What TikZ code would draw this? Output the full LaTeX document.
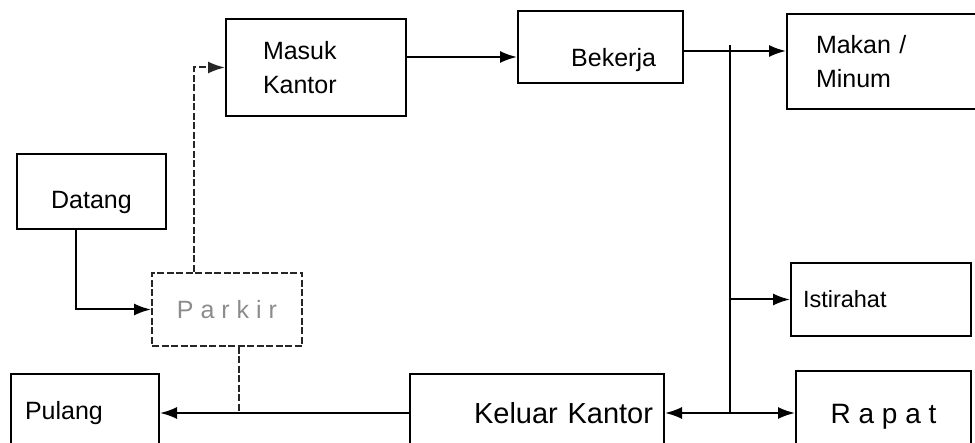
\documentclass[tikz,border=0pt]{standalone}
\usepackage{fontspec}
\setmainfont{Liberation Sans}
\usetikzlibrary{positioning}
\usetikzlibrary{arrows.meta}

\begin{document}
\begin{tikzpicture}
  [x=1pt, y=-1pt,
   box/.style = {draw, line width=2pt, anchor=north west, inner sep=0pt,
                 font=\fontsize{25}{34}\selectfont},
   wire/.style = {line width=2pt, -{Latex[length=17pt,width=12pt]}},
   twoway/.style = {line width=2pt, {Latex[length=17pt,width=12pt]}-{Latex[length=17pt,width=12pt]}},
   faint/.style = {dash pattern=on 7pt off 2.5pt, draw=black!85}]
  \useasboundingbox (0,0) rectangle (975,443);

  \node (masuk) [box, minimum height=97, inner xsep=37, text width=106, align=left]
    at (225,18) {Masuk\\Kantor};
  \node (bekerja) [box, minimum height=72, inner xsep=27, text width=111, align=right,
    text height=40pt, text depth=0pt] at (517,10) {Bekerja};
  \node (makan) [box, minimum height=95, inner xsep=29, text width=142, align=left]
    at (786,13) {Makan /\\Minum};
  \node (datang) [box, minimum width=149, minimum height=75,
    text height=34pt, text depth=0pt] at (16,153) {Datang};
  \node (parkir) [box, faint, minimum width=150, minimum height=73, text=black!45]
    at (151,272) {P a r k i r};
  \node (istirahat) [box, minimum height=73, inner xsep=12, text width=156, align=left,
    font=\fontsize{23.5}{26}\selectfont] at (790,262) {Istirahat};
  \node (pulang) [box, minimum height=78, inner xsep=14, text width=120, align=left]
    at (10,373) {Pulang};
  \node (keluar) [box, minimum height=78, inner xsep=11, text width=232, align=right,
    font=\fontsize{29}{32}\selectfont] at (409,373) {Keluar Kantor};
  \node (rapat) [box, minimum width=175, minimum height=81,
    font=\fontsize{28}{30}\selectfont, text height=24pt, text depth=0pt]
    at (795,370) {R a p a t};

  \coordinate (split) at (730,45);

  \draw[wire] (datang.south) ++(-16,0) |- (parkir.west);
  \draw[wire, faint] (parkir.north) ++(-33,0) |- (masuk.west);
  \draw[wire] (masuk.east |- 0,57) -- (bekerja.west |- 0,57);
  \draw[wire] (bekerja.east |- 0,51) -- (makan.west |- 0,51);
  \draw[line width=2pt] (split) -- (split |- keluar.east);
  \draw[wire] (split |- istirahat.west) -- (istirahat.west);
  \draw[twoway] (keluar.east) -- (keluar.east -| rapat.west);
  \draw[wire] (keluar.west) -- (keluar.west -| pulang.east);
  \draw[line width=2pt, faint] ([xshift=12pt]parkir.south) -- ([xshift=12pt]parkir.south |- keluar.west);
\end{tikzpicture}
\end{document}
